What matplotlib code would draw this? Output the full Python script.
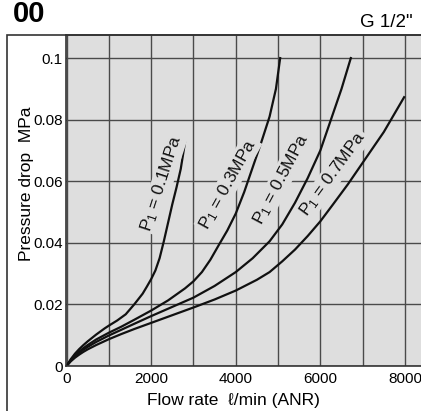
import matplotlib
matplotlib.use('Agg')
import matplotlib.pyplot as plt
from matplotlib.patches import Rectangle

plt.rcParams['font.family'] = ['Liberation Sans', 'DejaVu Sans']
plt.rcParams['mathtext.default'] = 'regular'

# flow rate (l/min ANR) vs pressure drop (MPa)
x_01 = [0, 100, 200, 300, 400, 500, 700, 900, 1000, 1200, 1400, 1600, 1800, 1900, 2000,
        2100, 2200, 2300, 2400, 2500, 2600, 2700, 2800]
y_01 = [0, 0.0022, 0.0040, 0.0055, 0.0068, 0.0080, 0.0102, 0.0122, 0.0131, 0.0148, 0.0168,
        0.0200, 0.0235, 0.0258, 0.0282, 0.031, 0.035, 0.0405, 0.0465, 0.0525, 0.058, 0.064, 0.0726]

x_03 = [0, 100, 200, 300, 400, 500, 700, 1000, 1300, 1600, 2000, 2400, 2800, 3000, 3200,
        3400, 3600, 3800, 4000, 4200, 4400, 4600, 4800, 4950, 5050]
y_03 = [0, 0.0019, 0.0034, 0.0047, 0.0058, 0.0068, 0.0086, 0.0108, 0.0128, 0.0150, 0.0180,
        0.0213, 0.0252, 0.0275, 0.0305, 0.0345, 0.0393, 0.0440, 0.0495, 0.0565, 0.0645,
        0.0725, 0.0810, 0.090, 0.100]

x_05 = [0, 100, 200, 300, 400, 500, 700, 1000, 1300, 1600, 2000, 2500, 3000, 3500, 4000,
        4400, 4800, 5100, 5400, 5700, 6000, 6250, 6500, 6720]
y_05 = [0, 0.0017, 0.0031, 0.0043, 0.0053, 0.0062, 0.0078, 0.0099, 0.0118, 0.0137, 0.0162,
        0.0192, 0.0222, 0.0260, 0.0305, 0.0350, 0.0405, 0.0460, 0.0530, 0.0610, 0.0700,
        0.0800, 0.0900, 0.100]

x_07 = [0, 100, 200, 300, 400, 500, 700, 1000, 1300, 1600, 2000, 2500, 3000, 3500, 4000,
        4500, 4800, 5100, 5400, 5700, 6000, 6300, 6650, 7000, 7500, 7980]
y_07 = [0, 0.0015, 0.0027, 0.0037, 0.0046, 0.0054, 0.0068, 0.0087, 0.0104, 0.0120, 0.0140,
        0.0165, 0.0190, 0.0216, 0.0245, 0.0280, 0.0305, 0.0340, 0.0378, 0.0422, 0.0470,
        0.0525, 0.0590, 0.0660, 0.0760, 0.0873]

curves = [(x_01, y_01), (x_03, y_03), (x_05, y_05), (x_07, y_07)]
labels = ['P$_1$ = 0.1MPa', 'P$_1$ = 0.3MPa', 'P$_1$ = 0.5MPa', 'P$_1$ = 0.7MPa']
label_xy = [(2257, 0.0594), (3817, 0.0591), (5070, 0.0607), (6299, 0.0623)]
label_rot = [72, 61, 62, 54]

xticks = [0, 2000, 4000, 6000, 8000]
yticks = [0, 0.02, 0.04, 0.06, 0.08, 0.1]
yticklabels = ['0', '0.02', '0.04', '0.06', '0.08', '0.1']

W, H = 421, 411
fig = plt.figure(figsize=(W / 100, H / 100), dpi=100)
bg = '#dedede'
ax = fig.add_axes([65.5 / W, 45 / H, (W - 65.5) / W, 331 / H])
ax.set_facecolor(bg)

ax.set_xlim(-24, 8379)
ax.set_ylim(0, 0.1075)
ax.set_xticks(xticks)
ax.set_xticks(range(1000, 8001, 2000), minor=True)
ax.set_yticks(yticks)
ax.set_yticklabels(yticklabels)
ax.grid(True, which='both', color='#4a4a4a', lw=1.0)
ax.tick_params(which='both', length=0, labelsize=11)
ax.tick_params(axis='y', pad=2)
ax.tick_params(axis='x', pad=4)
ax.set_axisbelow(True)
for s in ['top', 'left', 'bottom']:
    ax.spines[s].set_color('#333333')
    ax.spines[s].set_linewidth(1.2)
ax.spines['right'].set_visible(False)

for (xs, ys) in curves:
    ax.plot(xs, ys, color='#111111', lw=1.6, solid_joinstyle='round')

for lab, (lx, ly), rot in zip(labels, label_xy, label_rot):
    ax.text(lx, ly, lab, rotation=rot, rotation_mode='anchor', ha='center', va='center',
            fontsize=12.5, color='#111111',
            bbox=dict(facecolor=bg, edgecolor='none', pad=1.0))

# axis titles
ax.set_xlabel('Flow rate  ℓ/min (ANR)', fontsize=12.5)
ax.xaxis.set_label_coords((233 - 65.5) / (W - 65.5), -(400 - 366) / 331)
ax.xaxis.label.set_va('center')
ax.set_ylabel('Pressure drop  MPa', fontsize=12.5)
ax.yaxis.set_label_coords(-(65.5 - 26) / (W - 65.5), (366 - 184) / 331)
ax.yaxis.label.set_va('center')

# outer frame
fig.add_artist(Rectangle((7 / W, -0.1), 1.2, 1 - 35 / H + 0.1, transform=fig.transFigure,
                         fill=False, edgecolor='#333333', lw=1.2, clip_on=False))

fig.text(45 / W, 1 - 22 / H, '00', fontsize=21, fontweight='bold', ha='right', va='baseline')
fig.text(413 / W, 1 - 27 / H, 'G 1/2"', fontsize=13.5, ha='right', va='baseline')

fig.savefig('out.png', dpi=100)
